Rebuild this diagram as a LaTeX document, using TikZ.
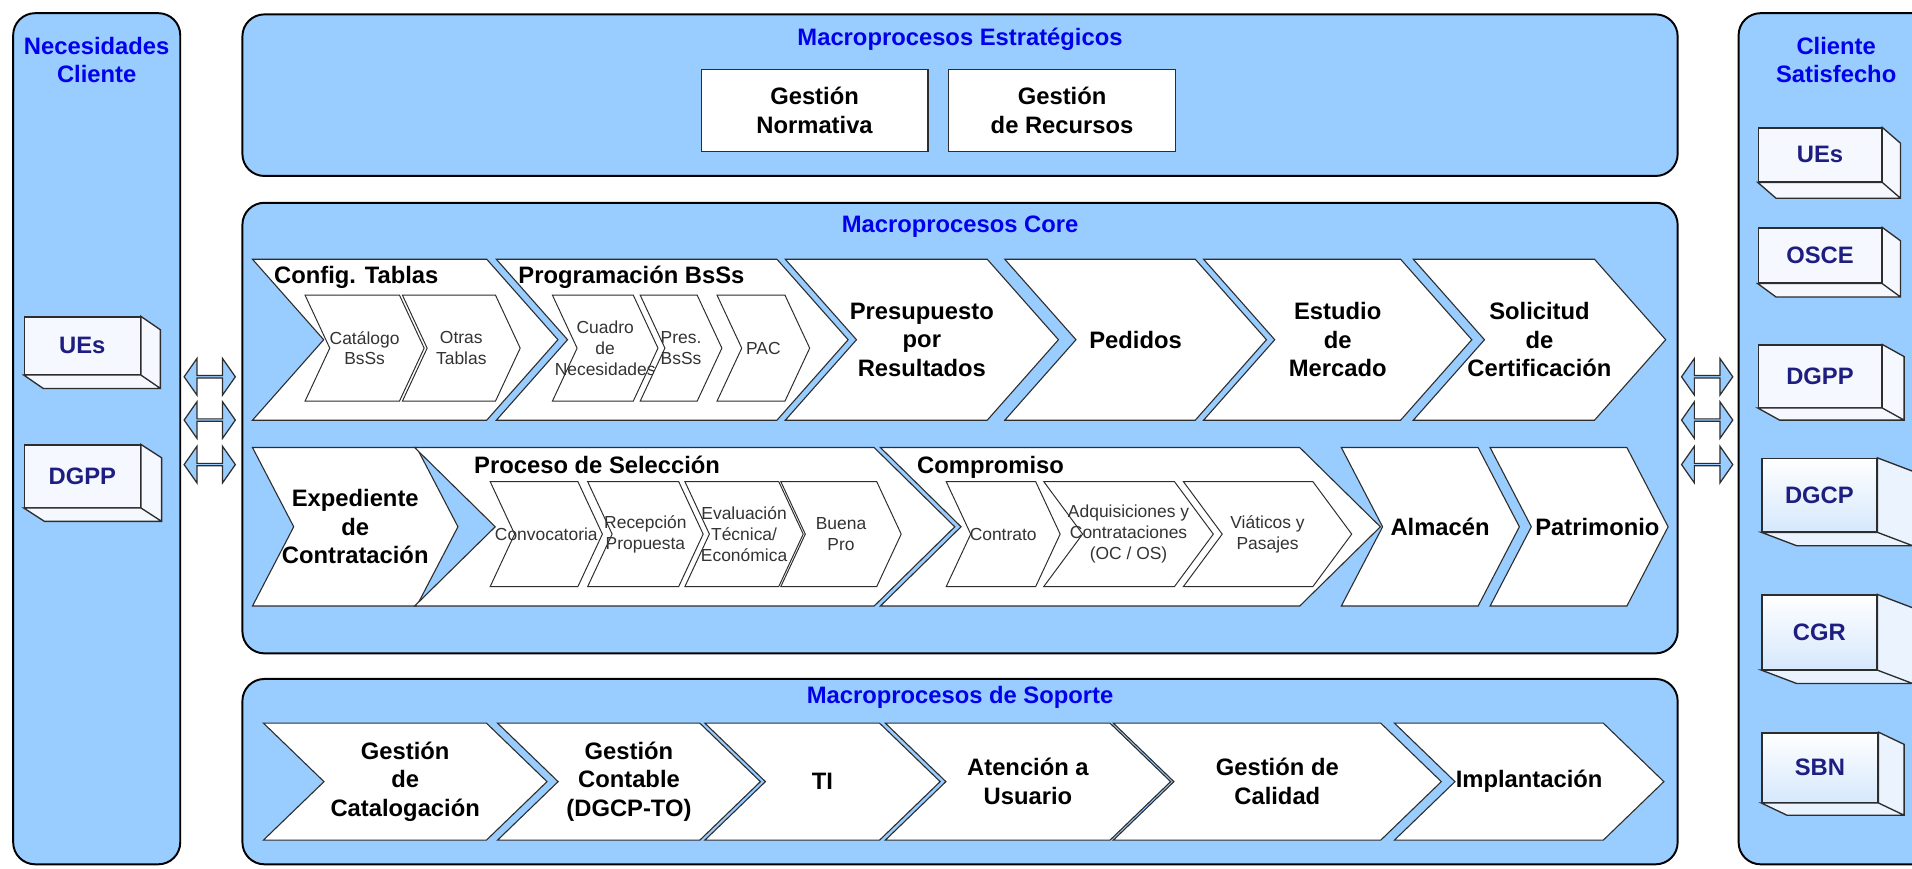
\documentclass[tikz,border=0pt]{standalone}
\usepackage{fontspec}
\setmainfont{Liberation Sans}
\usetikzlibrary{positioning, shapes.symbols, shapes.arrows}

\definecolor{panelblue}{RGB}{153,204,255}
\definecolor{titleblue}{RGB}{0,0,235}
\definecolor{boxnavy}{RGB}{30,30,128}
\definecolor{boxtint}{RGB}{214,232,252}
\definecolor{cubewhite}{RGB}{246,248,255}
\definecolor{edgegray}{RGB}{45,45,45}

\begin{document}
\begin{tikzpicture}[
        x=1pt, y=-1pt,
        every node/.style={font=\fontsize{19.5}{23.5}\selectfont\bfseries, align=center},
        panel/.style={draw, line width=1.6pt, fill=panelblue, rounded corners=18pt, anchor=north west},
        ptitle/.style={text=titleblue, inner sep=0pt},
        plainbox/.style={draw=edgegray, line width=1pt, fill=white, minimum width=186pt, minimum height=67pt},
        cubeface/.style={draw=edgegray, line width=1.1pt, fill=cubewhite, text=boxnavy, inner sep=0pt},
        tintface/.style={cubeface, top color=white, bottom color=boxtint},
        extrude/.style={draw=edgegray, line width=1.1pt, fill=#1},
        extrude/.default=cubewhite,
        dblarrow/.style={double arrow, draw=edgegray, line width=1pt, fill=panelblue, inner sep=0pt,
            minimum height=42pt, minimum width=30pt, double arrow head extend=7pt, double arrow tip angle=110},
        chev/.style={signal, signal from=west, signal to=east, draw=edgegray, line width=0.9pt, fill=white, inner sep=0pt},
        corechev/.style={chev, minimum height=132pt, signal pointer angle=97},
        longchev/.style={chev, minimum height=130pt, signal pointer angle=89},
        shortchev/.style={chev, minimum height=130pt, signal pointer angle=125},
        supchev/.style={chev, minimum height=96pt, signal pointer angle=88},
        subchev/.style={chev, line width=0.8pt, minimum height=87pt, signal pointer angle=130},
        subtext/.style={font=\fontsize{14.3}{17}\selectfont, text=black!80},
        grouplabel/.style={anchor=base west, inner sep=0pt}
    ]
        \path[use as bounding box] (0,0) rectangle (1568,712);
        \clip (0,0) rectangle (1568,712);
        \fill[white] (0,0) rectangle (1568,712);

        % Panels
        \node[panel, minimum width=137pt, minimum height=698pt] (needs) at (10,10) {};
        \node[panel, minimum width=160pt, minimum height=698pt] (clients) at (1425,10) {};
        \node[panel, minimum width=1177pt, minimum height=132.5pt] (strategic) at (198,11) {};
        \node[panel, minimum width=1177pt, minimum height=369.5pt] (core) at (198,165.5) {};
        \node[panel, minimum width=1177pt, minimum height=152pt] (support) at (198,556) {};

        \node[ptitle, below=20pt of needs.north] (needstitle) {Necesidades\\Cliente};
        \node[ptitle, below=20pt of clients.north] (clientstitle) {Cliente\\Satisfecho};
        \node[ptitle, below=12pt of strategic.north] (strattitle) {Macroprocesos Estratégicos};
        \node[ptitle, below=11pt of core.north] (coretitle) {Macroprocesos Core};
        \node[ptitle, below=7pt of support.north] (suptitle) {Macroprocesos de Soporte};

        % Strategic boxes
        \node[plainbox] (normativa) at (668,90.5) {Gestión\\Normativa};
        \node[plainbox, right=16pt of normativa] (recursos) {Gestión\\de Recursos};

        % Client boxes, left
        \node[cubeface, minimum width=95pt, minimum height=47pt] (uesin) at (67.5,283.5) {UEs};
        \draw[extrude] (uesin.north east) -- ++(16,11) -- ([shift={(16,11)}]uesin.south east) -- ([shift={(16,11)}]uesin.south west) -- (uesin.south west) -- (uesin.south east) -- cycle (uesin.south east) -- ++(16,11);
        \node[cubeface, minimum width=95pt, minimum height=51pt] (dgppin) at (67.5,390.5) {DGPP};
        \draw[extrude] (dgppin.north east) -- ++(17,11) -- ([shift={(17,11)}]dgppin.south east) -- ([shift={(17,11)}]dgppin.south west) -- (dgppin.south west) -- (dgppin.south east) -- cycle (dgppin.south east) -- ++(17,11);

        % Client boxes, right
        \node[cubeface, minimum width=101pt, minimum height=44pt] (uesout) at (1492.5,127) {UEs};
        \draw[extrude] (uesout.north east) -- ++(15,13) -- ([shift={(15,13)}]uesout.south east) -- ([shift={(15,13)}]uesout.south west) -- (uesout.south west) -- (uesout.south east) -- cycle (uesout.south east) -- ++(15,13);
        \node[cubeface, minimum width=101pt, minimum height=45pt] (osce) at (1492.5,209.5) {OSCE};
        \draw[extrude] (osce.north east) -- ++(15,11) -- ([shift={(15,11)}]osce.south east) -- ([shift={(15,11)}]osce.south west) -- (osce.south west) -- (osce.south east) -- cycle (osce.south east) -- ++(15,11);
        \node[cubeface, minimum width=101pt, minimum height=51pt] (dgppout) at (1492.5,308.5) {DGPP};
        \draw[extrude] (dgppout.north east) -- ++(18,10) -- ([shift={(18,10)}]dgppout.south east) -- ([shift={(18,10)}]dgppout.south west) -- (dgppout.south west) -- (dgppout.south east) -- cycle (dgppout.south east) -- ++(18,10);
        \node[tintface, minimum width=94pt, minimum height=60pt] (dgcp) at (1492,406) {DGCP};
        \draw[extrude=boxtint!50] (dgcp.north east) -- ++(29,11) -- ([shift={(29,11)}]dgcp.south east) -- ([shift={(29,11)}]dgcp.south west) -- (dgcp.south west) -- (dgcp.south east) -- cycle (dgcp.south east) -- ++(29,11);
        \node[tintface, minimum width=94pt, minimum height=61pt] (cgr) at (1492,518.5) {CGR};
        \draw[extrude=boxtint!50] (cgr.north east) -- ++(29,11) -- ([shift={(29,11)}]cgr.south east) -- ([shift={(29,11)}]cgr.south west) -- (cgr.south west) -- (cgr.south east) -- cycle (cgr.south east) -- ++(29,11);
        \node[tintface, minimum width=95pt, minimum height=57pt] (sbn) at (1492.5,629.5) {SBN};
        \draw[extrude=boxtint!50] (sbn.north east) -- ++(21,10) -- ([shift={(21,10)}]sbn.south east) -- ([shift={(21,10)}]sbn.south west) -- (sbn.south west) -- (sbn.south east) -- cycle (sbn.south east) -- ++(21,10);

        % Exchange arrows
        \node[dblarrow] (inarrowa) at (172,309) {};
        \node[dblarrow] (inarrowb) at (172,344.5) {};
        \node[dblarrow] (inarrowc) at (172,381) {};
        \node[dblarrow] (outarrowa) at (1400,309) {};
        \node[dblarrow] (outarrowb) at (1400,344.5) {};
        \node[dblarrow] (outarrowc) at (1400,381) {};

        % Core, first row
        \node[corechev, minimum width=250.5pt] (config) at (332.3,278.6) {};
        \node[corechev, minimum width=288.5pt] (programa) at (551.3,278.6) {};
        \node[corechev, minimum width=224pt, label={center:Presupuesto\\por\\Resultados}] (presup) at (756,278.6) {};
        \node[corechev, minimum width=214.6pt, label={center:Pedidos}] (pedidos) at (931.3,278.6) {};
        \node[corechev, minimum width=220pt, label={center:Estudio\\de\\Mercado}] (estudio) at (1097,278.6) {};
        \node[corechev, minimum width=207pt, label={center:Solicitud\\de\\Certificación}] (solicitud) at (1262.5,278.6) {};

        \node[subchev, minimum width=97.7pt, label={[subtext]center:Catálogo\\BsSs}] (catalogo) at (299,285.5) {};
        \node[subchev, minimum width=96.6pt, label={[subtext]center:Otras\\Tablas}] (otras) at (378.3,285.5) {};
        \node[subchev, minimum width=86.6pt, label={[subtext]center:Cuadro\\de\\Necesidades}] (cuadro) at (496.3,285.5) {};
        \node[subchev, minimum width=67pt, label={[subtext]center:Pres.\\BsSs}] (presbss) at (558.5,285.5) {};
        \node[subchev, minimum width=76pt, label={[subtext]center:PAC}] (pac) at (626,285.5) {};

        \node[grouplabel] (configlbl) at (224.6,232.5) {Config. Tablas};
        \node[grouplabel] (programalbl) at (425,232.5) {Programación BsSs};

        % Core, second row
        \node[shortchev, minimum width=168.5pt, label={center:Expediente\\de\\Contratación}] (expediente) at (291.3,432) {};
        \node[longchev, minimum width=443pt] (seleccion) at (561.5,432) {};
        \node[longchev, minimum width=410pt] (compromiso) at (927,432) {};
        \node[shortchev, minimum width=146pt, label={[xshift=8pt]center:Almacén}] (almacen) at (1173,432) {};
        \node[shortchev, minimum width=146pt, label={[xshift=15pt]center:Patrimonio}] (patrimonio) at (1295,432) {};

        \node[subchev, minimum height=86pt, minimum width=92pt, label={[subtext]center:Convocatoria}] (convoca) at (448,438) {};
        \node[subchev, minimum height=86pt, minimum width=94.7pt, label={[subtext]center:Recepción\\Propuesta}] (recepcion) at (529.3,438) {};
        \node[subchev, minimum height=86pt, minimum width=97pt, label={[subtext]center:Evaluación\\Técnica/\\Económica}] (evalua) at (610.2,438) {};
        \node[subchev, minimum height=86pt, minimum width=98.7pt, label={[subtext]center:Buena\\Pro}] (buenapro) at (689.7,438) {};
        \node[subchev, minimum height=86pt, minimum width=93.4pt, label={[subtext]center:Contrato}] (contrato) at (822.7,438) {};
        \node[subchev, minimum height=86pt, signal pointer angle=107, minimum width=139pt, label={[subtext]center:Adquisiciones y\\Contrataciones\\(OC / OS)}] (adquis) at (925.5,438) {};
        \node[subchev, minimum height=86pt, signal pointer angle=107, minimum width=138pt, label={[subtext]center:Viáticos y\\Pasajes}] (viaticos) at (1039.5,438) {};

        \node[grouplabel] (seleccionlbl) at (388.7,388) {Proceso de Selección};
        \node[grouplabel] (compromisolbl) at (752,388) {Compromiso};

        % Support row
        \node[supchev, minimum width=232.6pt, label={center:Gestión\\de\\Catalogación}] (catalogacion) at (332.3,641) {};
        \node[supchev, minimum width=215.6pt, label={center:Gestión\\Contable\\(DGCP-TO)}] (contable) at (515.8,641) {};
        \node[supchev, minimum width=193pt, label={center:TI}] (ti) at (674.5,641) {};
        \node[supchev, minimum width=234pt, label={center:Atención a\\Usuario}] (atencion) at (843,641) {};
        \node[supchev, minimum width=269pt, label={center:Gestión de\\Calidad}] (calidad) at (1047.5,641) {};
        \node[supchev, minimum width=221pt, label={center:Implantación}] (implanta) at (1254,641) {};
\end{tikzpicture}
\end{document}
